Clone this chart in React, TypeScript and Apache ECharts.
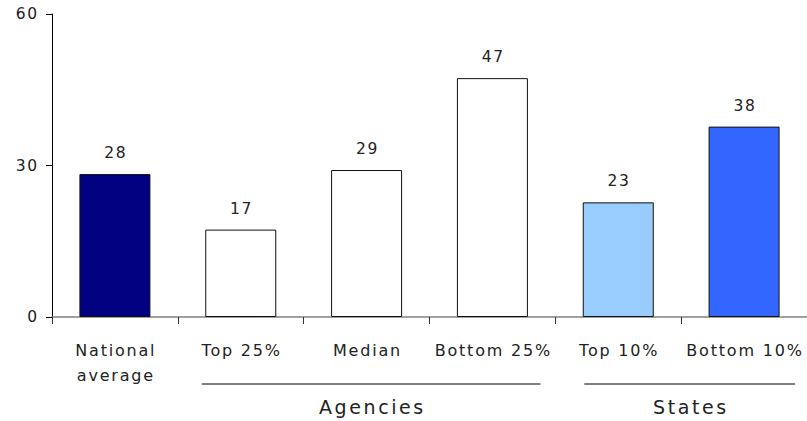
import React, { useEffect, useRef } from "react";
import * as echarts from "echarts";

const categories = ["National\naverage", "Top 25%", "Median", "Bottom 25%", "Top 10%", "Bottom 10%"];
const values = [28.3, 17.3, 29.1, 47.3, 22.7, 37.7];
const barColors = ["#000080", "#FFFFFF", "#FFFFFF", "#FFFFFF", "#99CCFF", "#3366FF"];
const groupNames = ["Agencies", "States"];
const groupFrom = [1, 4];
const groupTo = [3, 5];
const yTicks = { min: 0, max: 60, interval: 30 };

const FONT = "DejaVu Sans, Verdana, sans-serif";
const groupLineOffsets = [
  [39, 48],
  [34, 51],
];

export default function App() {
  const ref = useRef<HTMLDivElement>(null);
  useEffect(() => {
    document.body.style.margin = "0";
    const chart = echarts.init(ref.current!, null, { renderer: "svg" });
    chart.setOption({
      animation: false,
      grid: { left: 52, top: 14, width: 758, height: 303, containLabel: false },
      xAxis: {
        type: "category",
        data: categories,
        axisLine: { lineStyle: { color: "#808080", width: 1.5 } },
        axisTick: { show: true, length: 7, lineStyle: { color: "#333" } },
        axisLabel: {
          margin: 21,
          color: "#222",
          fontFamily: FONT,
          fontSize: 16,
          lineHeight: 25,
          interval: 0,
        },
      },
      yAxis: {
        type: "value",
        min: yTicks.min,
        max: yTicks.max,
        interval: yTicks.interval,
        splitLine: { show: false },
        axisLine: { show: true, lineStyle: { color: "#000", width: 1 } },
        axisTick: { show: true, length: 6, lineStyle: { color: "#000" } },
        axisLabel: { color: "#222", fontFamily: FONT, fontSize: 15.5, margin: 15 },
      },
      series: [
        {
          type: "bar",
          barWidth: 71,
          data: values.map((v, i) => ({
            value: v,
            itemStyle: { color: barColors[i], borderColor: "#111", borderWidth: 1 },
          })),
          label: {
            show: true,
            position: "top",
            distance: 13,
            color: "#222",
            fontFamily: FONT,
            fontSize: 15.5,
            formatter: (p: any) => String(Math.round(p.value)),
          },
        },
      ],
    });

    const graphics: any[] = [];
    const lineY = 384;
    groupNames.forEach((name, gi) => {
      const x1 = chart.convertToPixel({ xAxisIndex: 0 }, groupFrom[gi]) as number;
      const x2 = chart.convertToPixel({ xAxisIndex: 0 }, groupTo[gi]) as number;
      const left = x1 - groupLineOffsets[gi][0];
      const right = x2 + groupLineOffsets[gi][1];
      graphics.push({
        type: "line",
        shape: { x1: left, y1: lineY, x2: right, y2: lineY },
        style: { stroke: "#000", lineWidth: 1 },
      });
      graphics.push({
        type: "text",
        x: (left + right) / 2,
        y: 407,
        style: {
          text: name,
          fill: "#222",
          font: `19px ${FONT}`,
          textAlign: "center",
          textVerticalAlign: "middle",
        },
      });
    });
    chart.setOption({ graphic: graphics });

    const applySpacing = () => {
      const texts = ref.current?.querySelectorAll("text");
      texts?.forEach((t) => {
        const fs = parseFloat(getComputedStyle(t).fontSize || "0");
        const sp = fs >= 18 ? 2.6 : fs >= 16 ? 1.8 : 1.6;
        t.setAttribute("letter-spacing", String(sp));
        const anchor = t.getAttribute("text-anchor");
        if (anchor === "middle" && !t.dataset.shifted) {
          const x = parseFloat(t.getAttribute("x") || "0");
          t.setAttribute("x", String(x + sp / 2));
          t.dataset.shifted = "1";
        } else if (anchor === "end" && !t.dataset.shifted) {
          const x = parseFloat(t.getAttribute("x") || "0");
          t.setAttribute("x", String(x + sp));
          t.dataset.shifted = "1";
        }
      });
    };
    applySpacing();
    chart.on("finished", applySpacing);
    const timer = setTimeout(applySpacing, 50);

    return () => {
      clearTimeout(timer);
      chart.dispose();
    };
  }, []);
  return <div ref={ref} style={{ width: 807, height: 421 }} />;
}
